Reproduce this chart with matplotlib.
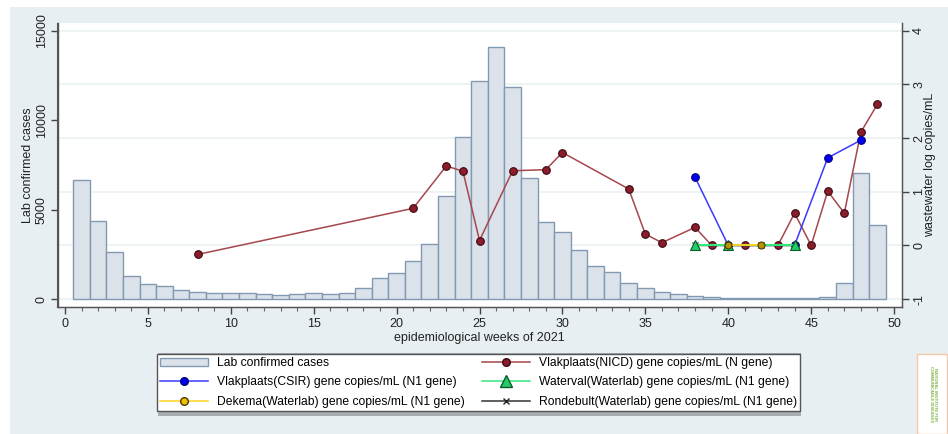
import matplotlib
matplotlib.use("Agg")
import matplotlib.pyplot as plt
import numpy as np
from matplotlib.lines import Line2D
from matplotlib.patches import Patch, Rectangle

plt.rcParams['font.family'] = ['Liberation Sans', 'DejaVu Sans']

# ---- data ----
weeks = list(range(1, 50))
cases = [6660, 4360, 2610, 1290, 860, 710, 490, 375, 320, 355,
         330, 280, 225, 260, 335, 280, 335, 616, 1175, 1437,
         2145, 3060, 5750, 9070, 12180, 14070, 11850, 6750, 4310, 3730,
         2740, 1870, 1530, 914, 616, 375, 280, 168, 130, 75,
         75, 40, 30, 30, 40, 130, 914, 7030, 4140]

nicd_weeks = [8, 21, 23, 24, 25, 27, 29, 30, 34, 35, 36, 38, 39, 41, 43, 44, 45, 46, 47, 48, 49]
nicd_vals = [-0.17, 0.69, 1.48, 1.38, 0.09, 1.39, 1.41, 1.73, 1.05, 0.21, 0.05, 0.335,
             0.0, 0.0, 0.0, 0.60, 0.0, 1.01, 0.60, 2.11, 2.63]

csir_weeks = [38, 40, 44, 46, 48]
csir_vals = [1.27, 0.0, 0.0, 1.63, 1.96]

waterval_weeks = [38, 40, 44]
waterval_vals = [0.0, 0.0, 0.0]

dekema_weeks = [40, 42]
dekema_vals = [0.0, 0.0]

rondebult_weeks = [38, 40, 42, 44]
rondebult_vals = [0.0, 0.0, 0.0, 0.0]

legend_labels = ["Lab confirmed cases",
                 "Vlakplaats(CSIR) gene copies/mL (N1 gene)",
                 "Dekema(Waterlab) gene copies/mL (N1 gene)",
                 "Vlakplaats(NICD) gene copies/mL (N gene)",
                 "Waterval(Waterlab) gene copies/mL (N1 gene)",
                 "Rondebult(Waterlab) gene copies/mL (N1 gene)"]

# ---- styles ----
bg = '#e8eff2'
bar_face = '#dce2ea'
bar_edge = '#8299b2'
nicd_line = '#a5474d'
nicd_face = '#8c1c2c'
csir_col = '#3a3aff'
wat_col = '#33e67a'
dek_col = '#ffd21f'

W, H = 948, 434
fig = plt.figure(figsize=(W / 100, H / 100), dpi=100)
fig.patch.set_facecolor('white')
fig.add_artist(Rectangle((10 / W, 0), 1 - 10 / W, 1 - 7 / H, transform=fig.transFigure,
                         facecolor=bg, edgecolor='none', zorder=-10))

ax = fig.add_axes([57.5 / W, 1 - 307 / H, (902 - 57.5) / W, (307 - 23) / H])
ax.set_facecolor('white')

ylo, yhi = -447, 15430
ax.set_ylim(ylo, yhi)
ax.set_xlim(-0.45, 50.48)

for g in range(0, 15001, 3000):
    ax.axhline(g, color='#eaf1f3', lw=1.2, zorder=0)

ax.bar(weeks, cases, width=1.0, color=bar_face, edgecolor=bar_edge, linewidth=1.0, zorder=2)

ax.set_yticks([0, 5000, 10000, 15000])
ax.set_yticklabels(['0', '5000', '10000', '15000'], rotation=90, va='center')
ax.set_xticks(range(0, 51, 5))
ax.set_xticks(range(0, 51), minor=True)
ax.tick_params(axis='x', which='major', length=5, width=1, colors='#444444', labelcolor='#222222', labelsize=9, pad=3)
ax.tick_params(axis='x', which='minor', length=3, width=0.8, colors='#666666')
ax.tick_params(axis='y', length=5, width=1, colors='#444444', labelcolor='#222222', labelsize=9, pad=2)
ax.set_xlabel('epidemiological weeks of 2021', fontsize=9, color='#222222', labelpad=1)
ax.set_ylabel('Lab confirmed cases', fontsize=9, color='#222222', labelpad=1)
ax.spines['top'].set_visible(False)
for s in ['left', 'bottom', 'right']:
    ax.spines[s].set_color('#555555')
    ax.spines[s].set_linewidth(1.0)

ax2 = ax.twinx()
ax2.set_ylim(ylo / 3000 - 1, yhi / 3000 - 1)
ax2.set_yticks([-1, 0, 1, 2, 3, 4])
ax2.set_yticklabels(['-1', '0', '1', '2', '3', '4'], rotation=90, va='center')
ax2.tick_params(axis='y', length=5, width=1, colors='#444444', labelcolor='#222222', labelsize=9, pad=3)
ax2.set_ylabel('wastewater log copies/mL', fontsize=9, color='#222222', rotation=90, labelpad=-1)
ax2.spines['top'].set_visible(False)
for s in ['left', 'bottom', 'right']:
    ax2.spines[s].set_color('#555555')

ax2.plot(nicd_weeks, nicd_vals, color=nicd_line, lw=1.1, marker='o', ms=5.5,
         mfc=nicd_face, mec='#3a0a10', mew=0.8, zorder=3)
ax2.plot(csir_weeks, csir_vals, color=csir_col, lw=1.1, marker='o', ms=5.5,
         mfc='#0000ee', mec='#000080', mew=0.8, zorder=4)
ax2.plot(waterval_weeks, waterval_vals, color=wat_col, lw=1.5, marker='^', ms=7,
         mfc='#22cc66', mec='#0a5a2a', mew=0.8, zorder=5)
ax2.plot(dekema_weeks, dekema_vals, color=dek_col, lw=1.3, marker='o', ms=5,
         mfc='#b89400', mec='#4a3a00', mew=0.8, zorder=6)
ax2.plot(rondebult_weeks, rondebult_vals, color='#1c3a30', lw=1.0, marker='x', ms=4,
         mec='#222222', mew=0.8, zorder=4.5)

handles = [
    Patch(facecolor=bar_face, edgecolor=bar_edge, linewidth=1.0),
    Line2D([], [], color=csir_col, lw=1.1, marker='o', ms=5.5, mfc='#0000ee', mec='#000080'),
    Line2D([], [], color=dek_col, lw=1.1, marker='o', ms=5.5, mfc='#f0c000', mec='#4a3a00'),
    Line2D([], [], color=nicd_line, lw=1.1, marker='o', ms=5.5, mfc=nicd_face, mec='#3a0a10'),
    Line2D([], [], color=wat_col, lw=1.1, marker='^', ms=8, mfc='#22cc66', mec='#0a5a2a'),
    Line2D([], [], color='#333333', lw=1.1, marker='x', ms=4, mec='#222222'),
]
# legend shadow
fig.add_artist(Rectangle((158 / W, 1 - 415.5 / H), 643 / W, 63 / H, transform=fig.transFigure,
                         facecolor='#a8adb2', edgecolor='none', zorder=4))
leg = fig.legend(handles, legend_labels, ncol=2, loc='center',
                 bbox_to_anchor=(157 / W, 1 - 414 / H, 643 / W, 63 / H), mode='expand',
                 fontsize=8.7, frameon=True, fancybox=False, edgecolor='#555555',
                 facecolor='white', framealpha=1, handlelength=4.0, handletextpad=0.7,
                 borderaxespad=0, borderpad=0.25, labelspacing=0.62, columnspacing=1.0)
leg.get_frame().set_linewidth(1.0)
leg.set_zorder(5)

# logo box
fig.add_artist(Rectangle((917 / W, 0), 30 / W, 80 / H, transform=fig.transFigure,
                         facecolor='white', edgecolor='#f5c9a8', lw=1.0))
fig.text(933 / W, 40 / H, "NATIONAL INSTITUTE FOR\nCOMMUNICABLE DISEASES", rotation=-90,
         fontsize=3, color='#7cb342', ha='center', va='center', fontweight='bold')

fig.savefig('out.png', dpi=100, facecolor=fig.get_facecolor())
